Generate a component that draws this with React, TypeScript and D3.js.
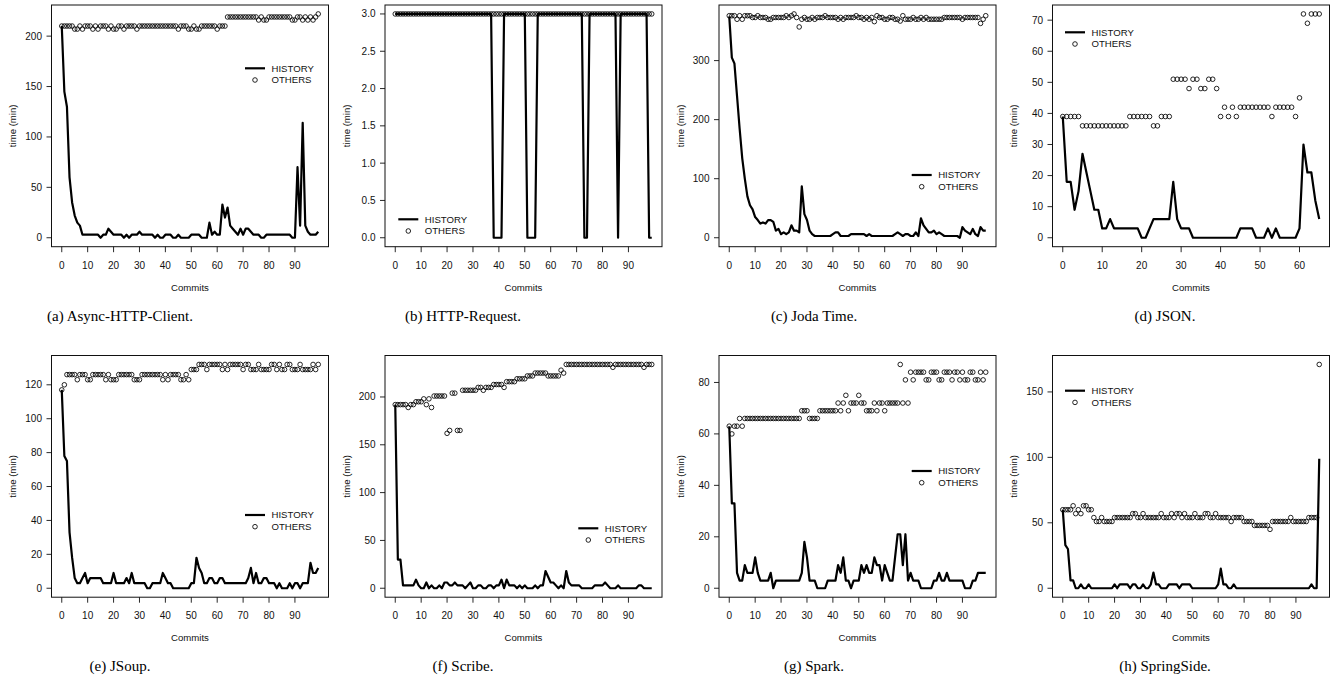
import React from "react";
import * as d3 from "d3";

// ---------------- DATA ----------------
const xTicksDefault = [0, 10, 20, 30, 40, 50, 60, 70, 80, 90];
const xTicksJson = [0, 10, 20, 30, 40, 50, 60];

const captions = [
  "(a) Async-HTTP-Client.",
  "(b) HTTP-Request.",
  "(c) Joda Time.",
  "(d) JSON.",
  "(e) JSoup.",
  "(f) Scribe.",
  "(g) Spark.",
  "(h) SpringSide.",
];

const yTicksA = [0, 50, 100, 150, 200];
const yTicksB = [0, 0.5, 1, 1.5, 2, 2.5, 3];
const yTicksC = [0, 100, 200, 300];
const yTicksD = [0, 10, 20, 30, 40, 50, 60, 70];
const yTicksE = [0, 20, 40, 60, 80, 100, 120];
const yTicksF = [0, 50, 100, 150, 200];
const yTicksG = [0, 20, 40, 60, 80];
const yTicksH = [0, 50, 100, 150];

const historyA = [
  210, 145, 130, 60, 35, 22, 15, 12, 3, 3,
  3, 3, 3, 3, 3, 0, 3, 3, 9, 6,
  3, 3, 3, 3, 0, 3, 0, 3, 3, 3,
  6, 3, 3, 3, 3, 3, 0, 3, 0, 0,
  3, 3, 3, 0, 0, 3, 0, 0, 0, 0,
  3, 3, 3, 3, 0, 0, 0, 15, 3, 6,
  3, 3, 33, 20, 30, 12, 9, 6, 3, 9,
  3, 9, 9, 6, 3, 3, 3, 0, 0, 3,
  3, 3, 3, 3, 3, 3, 3, 3, 3, 0,
  0, 70, 12, 114, 12, 6, 3, 3, 3, 6,
];
const othersA = [
  210, 210, 210, 210, 210, 207, 207, 210, 207, 210,
  210, 210, 207, 210, 207, 210, 210, 210, 207, 210,
  207, 207, 210, 210, 207, 210, 210, 210, 210, 207,
  210, 210, 210, 210, 210, 210, 210, 210, 210, 210,
  210, 210, 210, 210, 210, 207, 210, 210, 210, 207,
  207, 210, 207, 207, 210, 210, 210, 210, 210, 210,
  207, 210, 210, 210, 219, 219, 219, 219, 219, 219,
  219, 219, 219, 219, 219, 219, 216, 219, 216, 216,
  219, 219, 219, 219, 219, 219, 219, 219, 219, 216,
  216, 219, 219, 216, 219, 216, 219, 216, 219, 222,
];

const historyB = [
  3, 3, 3, 3, 3, 3, 3, 3, 3, 3,
  3, 3, 3, 3, 3, 3, 3, 3, 3, 3,
  3, 3, 3, 3, 3, 3, 3, 3, 3, 3,
  3, 3, 3, 3, 3, 3, 3, 3, 0, 0,
  0, 0, 3, 3, 3, 3, 3, 3, 3, 3,
  3, 0, 0, 0, 0, 3, 3, 3, 3, 3,
  3, 3, 3, 3, 3, 3, 3, 3, 3, 3,
  3, 3, 3, 0, 0, 3, 3, 3, 3, 3,
  3, 3, 3, 3, 3, 3, 0, 3, 3, 3,
  3, 3, 3, 3, 3, 3, 3, 3, 0, 0,
];
const othersB = [
  3, 3, 3, 3, 3, 3, 3, 3, 3, 3,
  3, 3, 3, 3, 3, 3, 3, 3, 3, 3,
  3, 3, 3, 3, 3, 3, 3, 3, 3, 3,
  3, 3, 3, 3, 3, 3, 3, 3, 3, 3,
  3, 3, 3, 3, 3, 3, 3, 3, 3, 3,
  3, 3, 3, 3, 3, 3, 3, 3, 3, 3,
  3, 3, 3, 3, 3, 3, 3, 3, 3, 3,
  3, 3, 3, 3, 3, 3, 3, 3, 3, 3,
  3, 3, 3, 3, 3, 3, 3, 3, 3, 3,
  3, 3, 3, 3, 3, 3, 3, 3, 3, 3,
];

const historyC = [
  375, 305, 295, 240, 185, 135, 100, 70, 55, 48,
  35, 30, 24, 26, 24, 30, 30, 27, 12, 15,
  6, 9, 6, 9, 21, 12, 12, 9, 87, 40,
  30, 12, 6, 3, 3, 3, 3, 3, 3, 3,
  6, 9, 9, 3, 3, 3, 3, 6, 6, 6,
  6, 6, 6, 3, 6, 3, 3, 3, 3, 3,
  3, 3, 3, 3, 6, 9, 6, 3, 6, 6,
  3, 3, 9, 3, 33, 21, 15, 9, 9, 12,
  6, 9, 6, 3, 3, 3, 3, 3, 3, 0,
  18, 12, 9, 6, 15, 6, 3, 18, 12, 12,
];
const othersC = [
  376, 376, 376, 370, 376, 370, 376, 376, 376, 373,
  373, 376, 373, 373, 373, 370, 370, 373, 373, 373,
  373, 373, 376, 373, 376, 379, 373, 357, 370, 373,
  370, 370, 373, 370, 373, 373, 373, 376, 373, 373,
  373, 373, 370, 373, 370, 373, 373, 373, 373, 376,
  373, 373, 370, 373, 370, 373, 366, 376, 373, 373,
  370, 370, 373, 373, 370, 370, 367, 376, 370, 370,
  370, 373, 370, 370, 373, 370, 373, 370, 370, 370,
  370, 370, 370, 373, 373, 373, 373, 373, 373, 373,
  370, 373, 373, 373, 373, 373, 373, 363, 370, 376,
];

const historyD = [
  39, 18, 18, 9, 15, 27, 21, 15, 9, 9,
  3, 3, 6, 3, 3, 3, 3, 3, 3, 3,
  0, 0, 3, 6, 6, 6, 6, 6, 18, 6,
  3, 3, 3, 0, 0, 0, 0, 0, 0, 0,
  0, 0, 0, 0, 0, 3, 3, 3, 3, 0,
  0, 0, 3, 0, 3, 0, 0, 0, 0, 0,
  3, 30, 21, 21, 12, 6,
];
const othersD = [
  39, 39, 39, 39, 39, 36, 36, 36, 36, 36,
  36, 36, 36, 36, 36, 36, 36, 39, 39, 39,
  39, 39, 39, 36, 36, 39, 39, 39, 51, 51,
  51, 51, 48, 51, 51, 48, 48, 51, 51, 48,
  39, 42, 39, 42, 39, 42, 42, 42, 42, 42,
  42, 42, 42, 39, 42, 42, 42, 42, 42, 39,
  45, 72, 69, 72, 72, 72,
];

const historyE = [
  117, 78, 75, 33, 18, 6, 3, 3, 6, 9,
  3, 6, 6, 6, 6, 6, 3, 3, 3, 3,
  9, 3, 3, 3, 3, 6, 3, 9, 3, 3,
  3, 3, 3, 0, 0, 3, 3, 3, 3, 9,
  6, 3, 3, 0, 0, 0, 0, 0, 0, 0,
  3, 3, 18, 12, 9, 3, 3, 6, 6, 3,
  3, 6, 6, 3, 3, 3, 3, 3, 3, 3,
  3, 3, 6, 12, 3, 9, 3, 3, 6, 6,
  3, 3, 3, 0, 3, 0, 0, 0, 3, 0,
  3, 3, 0, 3, 3, 3, 15, 9, 9, 12,
];
const othersE = [
  117, 120, 126, 126, 126, 126, 123, 126, 126, 126,
  123, 123, 126, 126, 126, 126, 126, 123, 126, 123,
  123, 123, 126, 126, 126, 126, 126, 126, 123, 123,
  123, 126, 126, 126, 126, 126, 126, 126, 126, 123,
  126, 123, 126, 126, 126, 126, 123, 123, 126, 123,
  129, 129, 129, 132, 132, 132, 129, 132, 132, 132,
  132, 132, 129, 132, 129, 132, 132, 132, 132, 132,
  129, 132, 132, 129, 129, 129, 132, 129, 129, 129,
  129, 132, 132, 129, 132, 129, 129, 132, 132, 129,
  129, 129, 132, 129, 129, 129, 129, 132, 129, 132,
];

const historyF = [
  192, 30, 30, 3, 3, 3, 3, 3, 9, 3,
  0, 0, 6, 0, 3, 0, 0, 3, 0, 6,
  6, 3, 3, 6, 3, 3, 3, 0, 3, 6,
  0, 0, 3, 3, 0, 0, 3, 3, 0, 3,
  3, 9, 0, 9, 3, 3, 3, 0, 3, 0,
  3, 0, 0, 0, 3, 0, 3, 3, 18, 12,
  6, 6, 3, 0, 3, 0, 18, 6, 3, 3,
  3, 3, 0, 0, 0, 0, 0, 3, 3, 3,
  3, 6, 3, 0, 0, 0, 3, 0, 0, 0,
  0, 0, 0, 0, 3, 3, 0, 0, 0, 0,
];
const othersF = [
  192, 192, 192, 192, 192, 189, 192, 192, 195, 195,
  195, 198, 192, 198, 189, 201, 201, 201, 201, 201,
  162, 165, 204, 204, 165, 165, 207, 207, 207, 207,
  207, 207, 210, 210, 207, 210, 210, 210, 213, 213,
  213, 213, 210, 216, 216, 216, 216, 219, 219, 219,
  219, 222, 222, 222, 225, 225, 225, 225, 225, 222,
  222, 222, 222, 222, 228, 225, 234, 234, 234, 234,
  234, 234, 234, 234, 234, 234, 234, 234, 234, 234,
  234, 234, 234, 234, 231, 234, 234, 234, 234, 234,
  234, 234, 234, 234, 234, 234, 231, 234, 234, 234,
];

const historyG = [
  63, 33, 33, 6, 3, 3, 9, 6, 6, 6,
  12, 6, 3, 3, 3, 3, 6, 0, 3, 3,
  3, 3, 3, 3, 3, 3, 3, 3, 6, 18,
  12, 3, 3, 3, 0, 0, 0, 0, 3, 3,
  3, 3, 9, 6, 12, 3, 3, 0, 3, 3,
  3, 9, 6, 9, 6, 6, 12, 9, 9, 3,
  9, 6, 3, 3, 12, 21, 21, 9, 21, 3,
  6, 3, 3, 3, 0, 0, 0, 0, 0, 3,
  3, 6, 3, 3, 6, 3, 3, 3, 3, 3,
  3, 0, 0, 0, 3, 3, 6, 6, 6, 6,
];
const othersG = [
  63, 60, 63, 63, 66, 63, 66, 66, 66, 66,
  66, 66, 66, 66, 66, 66, 66, 66, 66, 66,
  66, 66, 66, 66, 66, 66, 66, 66, 69, 69,
  69, 66, 66, 66, 66, 69, 69, 69, 69, 69,
  69, 69, 72, 69, 72, 75, 69, 72, 72, 72,
  75, 72, 72, 69, 69, 69, 72, 69, 72, 72,
  69, 72, 72, 72, 72, 72, 87, 72, 81, 72,
  84, 81, 84, 84, 84, 84, 81, 81, 84, 84,
  84, 81, 81, 84, 84, 84, 81, 84, 84, 81,
  84, 81, 81, 84, 84, 81, 81, 84, 81, 84,
];

const historyH = [
  60, 33, 30, 6, 6, 0, 0, 3, 0, 0,
  3, 0, 0, 0, 0, 0, 0, 0, 0, 0,
  3, 0, 3, 3, 3, 3, 0, 3, 3, 0,
  0, 3, 0, 0, 3, 12, 3, 3, 0, 0,
  0, 3, 3, 3, 3, 0, 3, 3, 3, 3,
  0, 0, 0, 0, 0, 0, 0, 0, 0, 0,
  3, 15, 3, 3, 0, 0, 3, 0, 0, 0,
  0, 0, 0, 0, 0, 0, 0, 0, 0, 0,
  0, 0, 0, 0, 0, 0, 0, 0, 0, 0,
  0, 0, 0, 0, 0, 0, 3, 0, 0, 99,
];
const othersH = [
  60, 60, 60, 60, 63, 57, 60, 57, 63, 63,
  60, 60, 54, 51, 51, 54, 51, 51, 51, 51,
  54, 54, 54, 54, 54, 54, 54, 57, 57, 54,
  54, 57, 54, 54, 54, 54, 54, 54, 57, 54,
  54, 54, 57, 54, 57, 57, 54, 57, 54, 54,
  54, 57, 54, 54, 54, 57, 57, 54, 54, 57,
  54, 54, 54, 54, 54, 51, 54, 54, 54, 54,
  51, 51, 51, 51, 48, 48, 48, 48, 48, 48,
  45, 51, 51, 51, 51, 51, 51, 51, 54, 51,
  51, 51, 51, 51, 51, 54, 54, 54, 54, 171,
];

// ---------------- LAYOUT ----------------
const BOX_LEFTS = [51.5, 385, 719, 1052.5];
const BOX_W = 277;
const ROW_TOPS = [5, 355.5];
const BOX_H = 241.7;
const CAPTION_X = [120, 463, 814, 1165];
const CAPTION_Y = [321, 671];

type PanelDef = {
  history: number[];
  others: number[];
  yTicks: number[];
  xTicks: number[];
  fmt: (v: number) => string;
  legend: [number, number];
};

const intFmt = (v: number) => String(v);
const decFmt = d3.format(".1f");

const panels: PanelDef[] = [
  { history: historyA, others: othersA, yTicks: yTicksA, xTicks: xTicksDefault, fmt: intFmt, legend: [245, 68.3] },
  { history: historyB, others: othersB, yTicks: yTicksB, xTicks: xTicksDefault, fmt: decFmt, legend: [398.3, 219.3] },
  { history: historyC, others: othersC, yTicks: yTicksC, xTicks: xTicksDefault, fmt: intFmt, legend: [911.7, 175] },
  { history: historyD, others: othersD, yTicks: yTicksD, xTicks: xTicksJson, fmt: intFmt, legend: [1065, 32.3] },
  { history: historyE, others: othersE, yTicks: yTicksE, xTicks: xTicksDefault, fmt: intFmt, legend: [245, 515] },
  { history: historyF, others: othersF, yTicks: yTicksF, xTicks: xTicksDefault, fmt: intFmt, legend: [578.3, 528.3] },
  { history: historyG, others: othersG, yTicks: yTicksG, xTicks: xTicksDefault, fmt: intFmt, legend: [911.7, 471] },
  { history: historyH, others: othersH, yTicks: yTicksH, xTicks: xTicksDefault, fmt: intFmt, legend: [1065, 390.7] },
];

const SANS = "'Liberation Sans', Arial, Helvetica, sans-serif";
const SERIF = "'Liberation Serif', 'Times New Roman', serif";
const INK = "#111";

function Panel({ p, idx }: { p: PanelDef; idx: number }) {
  const col = idx % 4;
  const row = Math.floor(idx / 4);
  const left = BOX_LEFTS[col];
  const top = ROW_TOPS[row];
  const n = p.history.length;
  const xr = n - 1;
  const x = d3.scaleLinear().domain([-0.04 * xr, xr * 1.04]).range([left, left + BOX_W]);
  const ymax = Math.max(d3.max(p.history) as number, d3.max(p.others) as number);
  const y = d3.scaleLinear().domain([-0.04 * ymax, ymax * 1.04]).range([top + BOX_H, top]);
  const line = d3
    .line<number>()
    .x((_, i) => x(i))
    .y((d) => y(d));
  const bottom = top + BOX_H;
  const [lx, ly] = p.legend;
  return (
    <g>
      <rect x={left} y={top} width={BOX_W} height={BOX_H} fill="none" stroke={INK} strokeWidth={1} />
      {/* y axis */}
      {p.yTicks.map((t) => (
        <g key={"y" + t}>
          <line x1={left - 5} x2={left} y1={y(t)} y2={y(t)} stroke={INK} strokeWidth={0.9} />
          <text x={left - 9.5} y={y(t)} dy="0.35em" textAnchor="end" fontSize={10} fontFamily={SANS} fill={INK}>
            {p.fmt(t)}
          </text>
        </g>
      ))}
      <text
        transform={`translate(${left - 38.5},${top + BOX_H / 2}) rotate(-90)`}
        textAnchor="middle"
        dy="0.35em"
        fontSize={9.6}
        fontFamily={SANS}
        fill={INK}
      >
        time (min)
      </text>
      {/* x axis */}
      {p.xTicks.map((t) => (
        <g key={"x" + t}>
          <line x1={x(t)} x2={x(t)} y1={bottom} y2={bottom + 5.5} stroke={INK} strokeWidth={0.9} />
          <text x={x(t)} y={bottom + 21.8} textAnchor="middle" fontSize={10} fontFamily={SANS} fill={INK}>
            {String(t)}
          </text>
        </g>
      ))}
      <text x={left + BOX_W / 2} y={bottom + 44} textAnchor="middle" fontSize={9.6} fontFamily={SANS} fill={INK}>
        Commits
      </text>
      {/* HISTORY line */}
      <path d={line(p.history) || ""} fill="none" stroke="#000" strokeWidth={2.2} strokeLinejoin="round" />
      {/* OTHERS points */}
      {p.others.map((v, i) => (
        <circle key={"o" + i} cx={x(i)} cy={y(v)} r={2.3} fill="none" stroke="#000" strokeWidth={0.85} />
      ))}
      {/* legend */}
      <line x1={lx} x2={lx + 20} y1={ly} y2={ly} stroke="#000" strokeWidth={2.2} />
      <text x={lx + 26.5} y={ly} dy="0.35em" fontSize={9.6} fontFamily={SANS} fill={INK}>
        HISTORY
      </text>
      <circle cx={lx + 10} cy={ly + 11.7} r={2.3} fill="none" stroke="#000" strokeWidth={0.85} />
      <text x={lx + 26.5} y={ly + 11.7} dy="0.35em" fontSize={9.6} fontFamily={SANS} fill={INK}>
        OTHERS
      </text>
      {/* caption */}
      <text x={CAPTION_X[col]} y={CAPTION_Y[row]} textAnchor="middle" fontSize={15} fontFamily={SERIF} fill="#000">
        {captions[idx]}
      </text>
    </g>
  );
}

export default function App() {
  return (
    <div style={{ position: "absolute", left: 0, top: 0 }}>
      <svg width={1341} height={679} style={{ display: "block", background: "#fff" }}>
        {panels.map((p, i) => (
          <Panel key={i} p={p} idx={i} />
        ))}
      </svg>
    </div>
  );
}
